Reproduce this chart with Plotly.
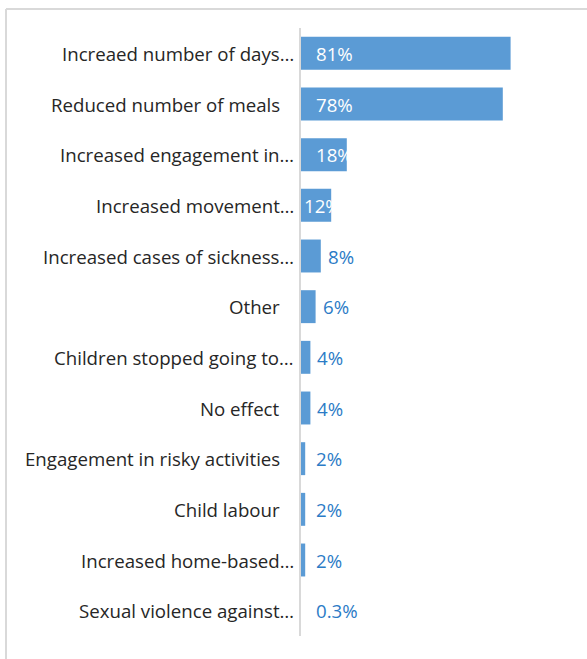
import plotly.graph_objects as go

categories = [
    "Increaed number of days…",
    "Reduced number of meals",
    "Increased engagement in…",
    "Increased movement…",
    "Increased cases of sickness…",
    "Other",
    "Children stopped going to…",
    "No effect",
    "Engagement in risky activities",
    "Child labour",
    "Increased home-based…",
    "Sexual violence against…",
]
values = [81, 78, 18, 12, 8, 6, 4, 4, 2, 2, 2, 0.3]
labels = ["81%", "78%", "18%", "12%", "8%", "6%", "4%", "4%", "2%", "2%", "2%", "0.3%"]
inside = [True, True, True, True, False, False, False, False, False, False, False, False]

W, H = 587, 659
ML, MR, MT, MB = 300, 27, 28, 23
PW = W - ML - MR
PH = H - MT - MB
FONT = "Open Sans"
FS = 18.67

fig = go.Figure()
fig.add_trace(go.Bar(
    y=categories, x=values, orientation="h",
    marker=dict(color="#5b9bd5", line=dict(width=0)),
    hoverinfo="skip",
))

annotations = []
for c, v, t, ins in zip(categories, values, labels, inside):
    # category label
    truncated = c.endswith("…")
    annotations.append(dict(x=0, y=c, xref="paper", yref="y", text=c, showarrow=False,
                            xanchor="right", xshift=-4 if truncated else -18,
                            font=dict(family=FONT, size=FS, color="#262626")))
    # value label
    if ins:
        shift = 14 if v > 15 else 2
        annotations.append(dict(x=0, y=c, xref="x", yref="y", text=t, showarrow=False,
                                xanchor="left", xshift=shift,
                                font=dict(family=FONT, size=FS, color="white")))
    else:
        shift = max(5, 14 - v * PW / 100)
        annotations.append(dict(x=v, y=c, xref="x", yref="y", text=t, showarrow=False,
                                xanchor="left", xshift=shift,
                                font=dict(family=FONT, size=FS, color="#2b7bc6")))

def px_x(p):
    return (p - ML) / PW

def px_y(p):
    return 1 - (p - MT) / PH

shapes = [
    dict(type="line", xref="paper", yref="paper", x0=px_x(6), x1=px_x(590), y0=px_y(9), y1=px_y(9),
         line=dict(color="#d9d9d9", width=2)),
    dict(type="line", xref="paper", yref="paper", x0=px_x(6), x1=px_x(6), y0=px_y(9), y1=px_y(662),
         line=dict(color="#d9d9d9", width=2)),
    dict(type="line", xref="paper", yref="paper", x0=0, x1=0, y0=0, y1=1,
         line=dict(color="#d9d9d9", width=2)),
]

fig.update_layout(
    width=W, height=H,
    margin=dict(l=ML, r=MR, t=MT, b=MB, pad=0),
    paper_bgcolor="white", plot_bgcolor="white",
    bargap=0.35,
    showlegend=False,
    xaxis=dict(range=[0, 100], visible=False, fixedrange=True),
    yaxis=dict(autorange="reversed", showline=False, showgrid=False, zeroline=False,
               ticks="", showticklabels=False, fixedrange=True),
    annotations=annotations,
    shapes=shapes,
)

fig.write_html("out.html")
